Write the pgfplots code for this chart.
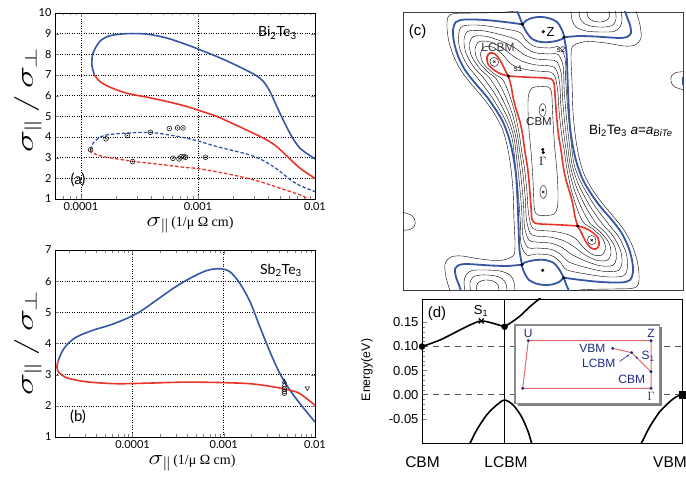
\documentclass[border=0pt]{standalone}
\usepackage{fontspec}
\setmainfont{Liberation Sans}
\newfontfamily\gill{Lato}
\newfontfamily\serif{Liberation Serif}
\usepackage{pgfplots}
\usepackage{pgfplotstable}
\pgfplotsset{compat=1.18}
\usetikzlibrary{shadows,arrows.meta}
\definecolor{cblue}{HTML}{3656A6}
\definecolor{cred}{HTML}{E8352A}
\definecolor{navy}{HTML}{222C88}
\definecolor{ired}{HTML}{E66A6A}
\newcommand{\fs}[1]{\fontsize{#1}{#1}\selectfont}
\newcommand{\twin}[2]{\addplot[#1] table {#2};\addplot[#1] table[x expr=1086-\thisrow{x}, y expr=302-\thisrow{y}] {#2};}

% ---------- panel (a) ----------
\pgfplotstableread{
x y
1.30e-4 7.01
1.24e-4 7.5
1.27e-4 8.06
1.45e-4 8.63
1.77e-4 8.90
2.46e-4 9.00
3.64e-4 8.98
5.40e-4 8.79
8.0e-4 8.47
1.04e-3 8.22
1.44e-3 7.90
2.0e-3 7.54
2.61e-3 7.22
3.17e-3 6.96
3.62e-3 6.69
4.12e-3 6.20
5.02e-3 5.15
6.11e-3 4.18
7.44e-3 3.46
1.0e-2 2.94
}\aBs
\pgfplotstableread{
x y
1.30e-4 7.01
1.45e-4 6.69
1.77e-4 6.41
2.46e-4 6.12
3.64e-4 5.93
5.40e-4 5.72
8.0e-4 5.48
1.04e-3 5.27
1.44e-3 5.00
2.0e-3 4.64
2.78e-3 4.26
3.87e-3 3.86
4.70e-3 3.54
5.73e-3 3.09
7.44e-3 2.49
1.0e-2 2.00
}\aRs
\pgfplotstableread{
x y
1.21e-4 3.38
1.27e-4 3.70
1.41e-4 3.94
1.66e-4 4.10
2.46e-4 4.19
3.89e-4 4.22
5.40e-4 4.12
8.0e-4 3.94
1.04e-3 3.78
1.44e-3 3.54
2.0e-3 3.34
2.78e-3 3.13
3.62e-3 2.86
4.70e-3 2.46
6.11e-3 1.95
7.44e-3 1.65
1.0e-2 1.36
}\aBd
\pgfplotstableread{
x y
1.21e-4 3.38
1.23e-4 3.25
1.55e-4 3.05
2.15e-4 2.92
2.77e-4 2.82
4.0e-4 2.72
5.4e-4 2.64
8.0e-4 2.52
1.04e-3 2.46
2.0e-3 2.16
3.39e-3 1.84
5.36e-3 1.47
7.44e-3 1.20
8.77e-3 1.00
}\aRd
\pgfplotstableread{
x y
1.21e-4 3.38
1.64e-4 3.91
2.49e-4 4.07
2.77e-4 2.81
3.92e-4 4.23
5.69e-4 4.41
6.70e-4 4.44
7.45e-4 4.44
6.11e-4 2.97
6.88e-4 2.94
7.16e-4 3.04
7.59e-4 3.05
7.85e-4 3.02
1.16e-3 3.02
}\aC

% ---------- panel (b) ----------
\pgfplotstableread{
x y
1.53e-5 3.45
1.66e-5 3.70
1.89e-5 3.95
2.43e-5 4.21
3.71e-5 4.43
5.64e-5 4.59
8.59e-5 4.80
1.20e-4 5.02
1.83e-4 5.39
2.79e-4 5.77
4.25e-4 6.09
6.48e-4 6.34
9.08e-4 6.40
1.17e-3 6.30
1.50e-3 5.93
1.94e-3 5.34
2.49e-3 4.53
3.21e-3 3.73
4.13e-3 3.03
5.32e-3 2.50
6.85e-3 2.07
1.0e-2 1.48
}\bB
\pgfplotstableread{
x y
1.53e-5 3.45
1.48e-5 3.25
1.55e-5 3.07
1.80e-5 2.93
2.05e-5 2.87
3.13e-5 2.77
6.67e-5 2.71
1.55e-4 2.73
3.60e-4 2.76
8.34e-4 2.75
1.94e-3 2.71
3.49e-3 2.61
5.32e-3 2.50
6.85e-3 2.39
1.0e-2 2.02
}\bR

% ---------- panel (c): contour lines, pixel frame ----------
\pgfplotstableread{
x y
522.3 24.3
520 18
517 11
}\cBa
\pgfplotstableread{
x y
522.3 24.3
527 20
534 17.5
542 17
550 18.5
557 22
561.5 29
564 37.3
558 40.5
550 42
541 42
533 39.5
527 33
522.3 24.3
}\cEye
\pgfplotstableread{
x y
522.3 24.3
505 22
485 20
465 19.5
456 22
453 30
454 42
458 56
465 70
475 83
487 97
496 110
503 122
509 138
513 155
516 175
517.5 200
518.5 225
519.5 250
522 264.7
}\cBc
\pgfplotstableread{
x y
564 37.3
572 36.5
580 36
595 36.5
607 37.3
620 38
627 37
631 33
630 25
627 17
625 11
}\cBd
\pgfplotstableread{
x y
508.3 76
520 76.8
530 77.3
545 78
551 79
554 83
555 95
556.5 115
558.3 133.3
561 150
563.3 166.7
566 180
570 193.3
573 205
575 216.7
577.7 226
}\cRm
\pgfplotstableread{
x y
508.3 76
505 70
500 60
495 54
490 53
487 57
488 64
494 70
501 74
508.3 76
}\cRl
\pgfplotstableread{
x y
521.6 151
519.2 133.8
514.7 112
508.7 92.8
502.5 79.3
493.3 73.2
483.2 63.3
480.5 53.3
484.5 46.8
493.3 47.4
502.5 54.4
511.1 64
521.2 68.4
535 70.9
550 72
555 76.6
557.8 91.5
559.2 112.5
561.7 135
564.4 151
}\cKa
\pgfplotstableread{
x y
519.7 151
517.3 134.7
512.3 114
504.3 93.7
496 78.7
486.7 71
477.3 59.7
475 48.7
479 41.7
489.7 41.8
502 47.8
513.2 56.1
522.3 61.3
535 64.8
550 66
556 69.2
559.6 83
560.8 105
563.3 130
566.3 151
}\cKb
\pgfplotstableread{
x y
517.8 151
515.5 135.5
510 116
500 94.5
489.5 78
480 68.8
471.5 56
469.5 44
473.5 36.5
486 36.3
501.5 41.3
515.4 48.2
523.5 54.3
535 58.8
550 60
557 61.8
561.4 74.5
562.5 97.5
565 125
568.3 151
}\cKc
\pgfplotstableread{
x y
515.8 151
513.7 136.3
507.7 118
495.7 95.3
483 77.3
473.3 66.5
465.7 52.3
464 39.3
468 31.3
482.3 30.7
501 34.7
517.5 40.2
524.7 47.2
535 52.7
550 54
558 54.3
563.1 66
564.2 90
566.7 120
570.2 151
}\cKd
\pgfplotstableread{
x y
513.9 151
511.8 137.2
505.3 120
491.3 96.2
476.5 76.7
466.7 64.3
459.8 48.7
458.5 34.7
462.5 26.2
478.7 25.1
500.5 28.1
519.6 32.3
525.8 40.1
535 46.6
550 48
559 46.9
564.9 57.5
565.8 82.5
568.3 115
572.1 151
}\cKe
\pgfplotstableread{
x y
531 151
529 130
528 110
528.5 95
532 88
540 86.5
548 87
551.5 92
552.5 110
553.5 130
555 151
}\cIn
\pgfplotstableread{
x y
542.7 103.5
545.2 105.5
546 110
545.2 114.5
542.7 116.5
540.2 114.5
539.4 110
540.2 105.5
542.7 103.5
}\cOv
\pgfplotstableread{
x y
494.3 57.5
497.5 59
498.5 62
497 65.5
494.3 66.5
491.3 65
490 61.7
491.3 58.5
494.3 57.5
}\cOl
\pgfplotstableread{
x y
516 11
500 12.5
475 13
455 13.5
448 17
447 28
449 42
454 57
462 72
473 86
484 99
494 113
502 128
507 145
510.5 165
513 190
514 220
515 245
513 256
500 260.5
480 259
462 256
451 257
445 264
446 277
450 291
}\cO
\pgfplotstableread{
x y
571 11
572 20
576 27
586 31
600 32
614 31.5
620 27
622 20
621 11
}\cUa
\pgfplotstableread{
x y
579 11
580 18
584 23.5
593 26.5
605 27
613 25
616 19
615.5 11
}\cUb
\pgfplotstableread{
x y
587 11
588 17
593 21
601 22
607 20
609.5 16
609 11
}\cUc
\pgfplotstableread{
x y
684 71.7
676 72.5
671.5 76
671 81
674 86.5
684 90
}\cE
\pgfplotstableread{
x y
682.5 77
682.5 85
}\cEb
\pgfplotstableread{
x y
522.3 24.3
564 37.3
508.3 76
543.3 31.7
542.7 149.5
}\cDots
\pgfplotstableread{
x y
494.3 61.7
542.7 110
}\cX

% ---------- panel (d) ----------
\pgfplotstableread{
x y
0 0.100
18 0.1135
34.7 0.1308
48 0.1446
59.3 0.1530
71.3 0.1480
82.7 0.1410
}\dUa
\pgfplotstableread{
x y
82.7 0.1410
88 0.148
98 0.163
108 0.1826
117.3 0.1986
122 0.208
}\dUb
\pgfplotstableread{
x y
46 -0.106
48 -0.1008
54.7 -0.0733
64.7 -0.042
74.7 -0.0214
82.7 -0.011
91.3 -0.0214
99.7 -0.0456
106.3 -0.0768
109.7 -0.1
111 -0.106
}\dL
\pgfplotstableread{
x y
217 -0.106
219.7 -0.1
228 -0.0664
238 -0.0353
248 -0.0145
254.7 -0.004
260.3 0
}\dV

\begin{document}
\begin{tikzpicture}
\useasboundingbox (0,0) rectangle (686pt,477pt);
\pgfplotsset{ab/.style={anchor=south west, scale only axis, width=260pt,
  tick align=inside, grid=major, grid style={black, dotted, line width=0.6pt},
  axis line style={line width=0.9pt}, major tick length=4pt, minor tick length=2.5pt,
  xtick={1e-4,1e-3,1e-2}, xticklabels={0.0001,0.001,0.01},
  tick label style={font=\gill\fs{11}}, /pgf/number format/assume math mode=true}}

% (a)
\begin{axis}[xmode=log, ab, at={(55pt,278pt)}, height=186pt, xmin=6e-5, xmax=1e-2, ymin=1, ymax=10,
  ytick={1,2,...,10},
  minor xtick={7e-5,8e-5,9e-5,2e-4,3e-4,4e-4,5e-4,6e-4,7e-4,8e-4,9e-4,2e-3,3e-3,4e-3,5e-3,6e-3,7e-3,8e-3,9e-3}]
\addplot[cblue, line width=1.6pt, smooth] table {\aBs};
\addplot[cred, line width=1.6pt, smooth] table {\aRs};
\addplot[cblue, line width=1.3pt, smooth, dash pattern=on 3.5pt off 2pt] table {\aBd};
\addplot[cred, line width=1.3pt, smooth, dash pattern=on 3.5pt off 2pt] table {\aRd};
\addplot[only marks, mark=o, mark size=2.4pt, black, mark options={line width=0.5pt}] table {\aC};
\addplot[only marks, mark=*, mark size=0.45pt, black] table {\aC};
\end{axis}

% (b)
\begin{axis}[xmode=log, ab, at={(55pt,40pt)}, height=187pt, xmin=1.41e-5, xmax=1e-2, ymin=1, ymax=7,
  ytick={1,2,...,7},
  minor xtick={2e-5,3e-5,4e-5,5e-5,6e-5,7e-5,8e-5,9e-5,2e-4,3e-4,4e-4,5e-4,6e-4,7e-4,8e-4,9e-4,2e-3,3e-3,4e-3,5e-3,6e-3,7e-3,8e-3,9e-3}]
\addplot[cblue, line width=1.6pt, smooth] table {\bB};
\addplot[cred, line width=1.6pt, smooth] table {\bR};
\addplot[only marks, mark=triangle, mark size=2.6pt, black, mark options={line width=0.5pt}] coordinates {(4.61e-3,2.77) (4.61e-3,2.67)};
\addplot[only marks, mark=o, mark size=2.3pt, black, mark options={line width=0.5pt}] coordinates {(4.61e-3,2.54) (4.61e-3,2.46) (4.61e-3,2.40)};
\addplot[only marks, mark=triangle, mark size=2.6pt, black, mark options={line width=0.5pt, rotate=180}] coordinates {(8.24e-3,2.57)};
\end{axis}

% (c)
\begin{axis}[at={(403pt,187pt)}, anchor=south west, scale only axis, width=280pt, height=278pt,
  xmin=403, xmax=683, ymin=12, ymax=290, y dir=reverse, ticks=none,
  axis line style={line width=0.6pt, black!75}]
\twin{black, line width=0.4pt, smooth}{\cKa}
\twin{black, line width=0.4pt, smooth}{\cKb}
\twin{black, line width=0.4pt, smooth}{\cKc}
\twin{black, line width=0.4pt, smooth}{\cKd}
\twin{black, line width=0.4pt, smooth}{\cKe}
\twin{black, line width=0.4pt, smooth}{\cIn}
\twin{black, line width=0.4pt, smooth}{\cOv}
\twin{black, line width=0.4pt, smooth}{\cOl}
\twin{black, line width=0.4pt, smooth}{\cO}
\twin{black, line width=0.4pt, smooth}{\cUa}
\twin{black, line width=0.4pt, smooth}{\cUb}
\twin{black, line width=0.4pt, smooth}{\cUc}
\twin{black, line width=0.4pt, smooth}{\cE}
\twin{cblue, line width=1.8pt}{\cEb}
\twin{cblue, line width=1.8pt, smooth}{\cBa}
\twin{cblue, line width=1.8pt, smooth}{\cEye}
\twin{cblue, line width=1.8pt, smooth}{\cBc}
\twin{cblue, line width=1.8pt, smooth}{\cBd}
\twin{cred, line width=1.6pt, smooth}{\cRm}
\twin{cred, line width=1.6pt, smooth}{\cRl}
\twin{only marks, mark=*, mark size=1.4pt, black}{\cDots}
\twin{only marks, mark=x, mark size=1.6pt, black, mark options={line width=0.5pt}}{\cX}
\end{axis}

% (d)
\begin{axis}[at={(422pt,34pt)}, anchor=south west, scale only axis, width=260pt, height=144pt,
  xmin=0, xmax=260.3, ymin=-0.1, ymax=0.1985, xtick=\empty,
  ytick={-0.05,0,0.05,0.1,0.15}, yticklabels={-0.05,0.00,0.05,0.10,0.15},
  minor y tick num=4, ytick pos=left, tick align=inside, major tick length=5pt, minor tick length=3pt,
  axis line style={line width=0.9pt}, tick style={line width=0.7pt}, tick label style={font=\fs{13}}]
\addplot[black!65, line width=0.9pt, dash pattern=on 6pt off 5pt] coordinates {(0,0.1) (260.3,0.1)};
\addplot[black!65, line width=0.9pt, dash pattern=on 6pt off 5pt] coordinates {(0,0) (260.3,0)};
\addplot[black, line width=0.8pt] coordinates {(82.7,-0.1) (82.7,0.1985)};
\addplot[black, line width=1.6pt, smooth] table {\dUa};
\addplot[black, line width=1.6pt, smooth] table {\dUb};
\addplot[black, line width=1.6pt, smooth] table {\dL};
\addplot[black, line width=1.6pt, smooth] table {\dV};
\addplot[only marks, mark=*, mark size=3pt, black] coordinates {(0,0.1) (82.7,0.141)};
\addplot[only marks, mark=x, mark size=3.5pt, black, mark options={line width=1.2pt}] coordinates {(59.3,0.153)};
\addplot[only marks, mark=square*, mark size=3.3pt, black] coordinates {(260.3,0)};
\end{axis}

% inset of (d)
\begin{axis}[at={(515pt,73.7pt)}, anchor=south west, scale only axis, width=144.3pt, height=78.3pt,
  xmin=515, xmax=659.3, ymin=325, ymax=403.3, y dir=reverse, ticks=none,
  axis line style={black!45, line width=1.2pt},
  axis background/.style={fill=white, drop shadow={shadow xshift=2.5pt, shadow yshift=-2.5pt, fill=black!50, opacity=1}}]
\addplot[ired, line width=1pt] coordinates {(528.3,340.7) (651,340.7) (651,388.3) (522.7,388.3) (528.3,340.7)};
\addplot[ired, line width=1pt] coordinates {(612.7,348.3) (631.7,352.7) (636.7,357.7) (651,371.7)};
\addplot[only marks, mark=*, mark size=1.3pt, navy] coordinates {(528.3,340.7) (651,340.7) (651,388.3) (522.7,388.3) (612.7,348.3) (631.7,352.7) (651,371.7)};
\addplot[only marks, mark=*, mark size=0.8pt, navy] coordinates {(636.7,357.7)};
\end{axis}

% ---------- text ----------
% (a)
\node[font=\gill\fs{14}] at (277.5pt,444pt) {Bi\textsubscript{2}Te\textsubscript{3}};
\node[font=\gill\fs{15}] at (78pt,297.5pt) {(a)};
\node[rotate=90] at (28pt,377pt) {\scalebox{1.5}[1]{\fs{24}$\sigma_{\|}\,/\,\sigma_{\perp}$}};
\node at (190pt,252pt) {\scalebox{1.2}[1]{\fs{20}$\sigma_{\|}$}\,{\serif\fs{14}(1/μ Ω cm)}};
% (b)
\node[font=\gill\fs{14}] at (281pt,207pt) {Sb\textsubscript{2}Te\textsubscript{3}};
\node[font=\gill\fs{15}] at (78pt,60pt) {(b)};
\node[rotate=90] at (28pt,134pt) {\scalebox{1.5}[1]{\fs{24}$\sigma_{\|}\,/\,\sigma_{\perp}$}};
\node at (192pt,14pt) {\scalebox{1.2}[1]{\fs{20}$\sigma_{\|}$}\,{\serif\fs{14}(1/μ Ω cm)}};
% (c)
\node[font=\fs{15}] at (417.5pt,445.5pt) {(c)};
\node[font=\fs{13}] at (550.5pt,445pt) {Z};
\node[font=\fs{8}, inner sep=0pt] at (561pt,427pt) {s2};
\node[font=\fs{12}, text=black!75] at (498pt,429.5pt) {LCBM};
\node[font=\fs{8}, inner sep=0pt] at (518pt,408pt) {s1};
\node[font=\fs{11.5}, text=black!85] at (539pt,355.3pt) {CBM};
\node[font=\fs{13}] at (542.7pt,316pt) {$\Gamma$};
\node[font=\fs{13.5}] at (630.8pt,346pt) {Bi\textsubscript{2}Te\textsubscript{3} \textit{a}=\textit{a}\textsubscript{\textit{BiTe}}};
% (d)
\node[font=\fs{15}] at (437pt,163pt) {(d)};
\node[font=\fs{13}] at (481pt,166pt) {S\textsubscript{1}};
\node[font=\fs{15.5}] at (422.5pt,14.5pt) {CBM};
\node[font=\fs{15.5}] at (506pt,14.5pt) {LCBM};
\node[font=\fs{15.5}] at (670pt,14.5pt) {VBM};
\node[font=\fs{12.3}, rotate=90] at (367pt,107pt) {Energy(eV)};
% inset text
\node[font=\fs{12}, text=navy] at (528.3pt,144pt) {U};
\node[font=\fs{12}, text=navy] at (651pt,144pt) {Z};
\node[font=\fs{12}, text=navy] at (651pt,80.5pt) {$\Gamma$};
\node[font=\fs{12}, text=navy, anchor=east] at (609pt,128.5pt) {VBM};
\node[font=\fs{12}, text=navy, anchor=east] at (619pt,113.5pt) {LCBM};
\node[font=\fs{12}, text=navy, anchor=west] at (638pt,121pt) {S\textsubscript{1}};
\node[font=\fs{12}, text=navy] at (631.7pt,98pt) {CBM};
\draw[navy, line width=0.6pt, -{Stealth[length=3pt]}] (619.5pt,115.5pt) -- (629.5pt,122.5pt);
\end{tikzpicture}
\end{document}
